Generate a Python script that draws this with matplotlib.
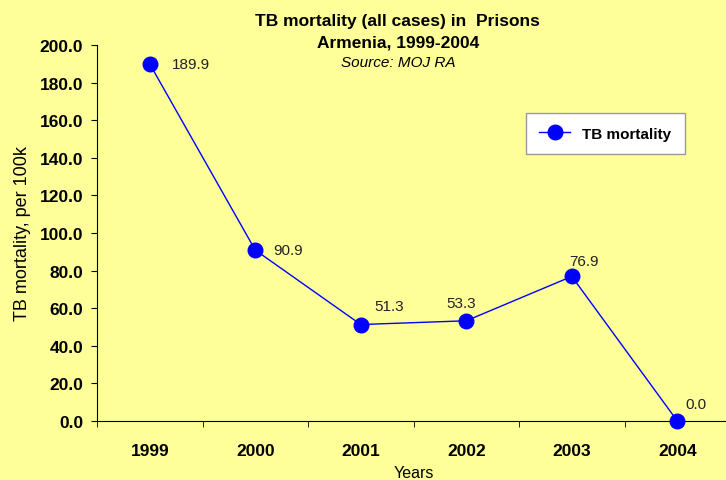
import matplotlib
matplotlib.use("Agg")
import matplotlib.pyplot as plt
import numpy as np

# data
years = ['1999', '2000', '2001', '2002', '2003', '2004']
mortality = [189.9, 90.9, 51.3, 53.3, 76.9, 0.0]
label_offsets = [(16, 0), (13, 0), (10, 8), (-14, 8), (-2, 6), (6, 7)]

bg = '#FFFF99'
plt.rcParams['font.family'] = ['Liberation Sans', 'DejaVu Sans']

fig = plt.figure(figsize=(7.26, 4.81), dpi=100, facecolor=bg)
ax = fig.add_axes([0.1336, 0.1227, 0.872, 0.7817])
ax.set_facecolor(bg)

x = np.arange(len(years))
ax.plot(x, mortality, color='#0000FF', linewidth=1, marker='o',
        markersize=10.5, label='TB mortality', clip_on=False, zorder=3)

for i in range(len(x)):
    ax.annotate('%.1f' % mortality[i], (x[i], mortality[i]),
                xytext=label_offsets[i], textcoords='offset points',
                fontsize=11, color='#222222',
                va='bottom' if label_offsets[i][1] > 0 else 'center')

ax.set_xlim(-0.5, 5.5)
ax.set_ylim(0, 200)
ax.set_yticks(np.arange(0, 201, 20))
ax.set_yticklabels(['%.1f' % v for v in np.arange(0, 201, 20)],
                   fontsize=12.5, fontweight='bold')
ax.set_xticks(x)
ax.set_xticklabels(years, fontsize=12.5, fontweight='bold')
ax.set_xticks(np.arange(-0.5, 5.6, 1), minor=True)
ax.tick_params(axis='x', which='major', length=0, pad=16)
ax.tick_params(axis='x', which='minor', length=4.5, direction='out')
ax.tick_params(axis='y', length=4, direction='out', pad=6)

ax.spines['top'].set_visible(False)
ax.spines['right'].set_visible(False)

ax.set_ylabel('TB mortality, per 100k', fontsize=13, labelpad=6)
ax.set_xlabel('Years', fontsize=11.5, labelpad=5)

tx = 0.548
fig.text(tx, 0.956, 'TB mortality (all cases) in  Prisons', ha='center',
         va='center', fontsize=12.5, fontweight='bold')
fig.text(tx, 0.911, 'Armenia, 1999-2004', ha='center', va='center',
         fontsize=12.5, fontweight='bold')
fig.text(tx, 0.870, 'Source: MOJ RA', ha='center', va='center',
         fontsize=11, style='italic')

leg = ax.legend(loc='upper left', bbox_to_anchor=(0.665, 0.84),
                prop={'weight': 'bold', 'size': 11}, fancybox=False,
                framealpha=1, borderpad=0.9, handlelength=2.0)
leg.get_frame().set_edgecolor('#999999')
leg.get_frame().set_facecolor('white')

fig.savefig('out.png', dpi=100, facecolor=bg)
